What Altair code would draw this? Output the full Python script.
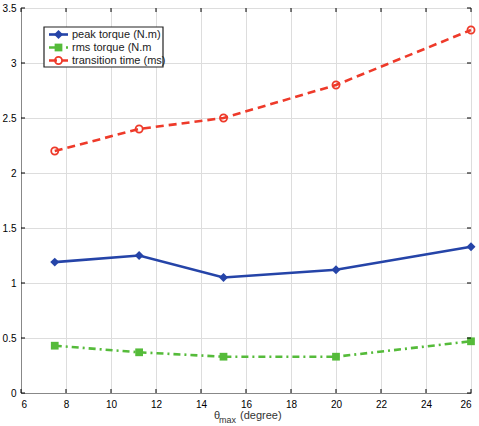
import altair as alt
import pandas as pd

# Measured values versus maximum angle
theta = [7.5, 11.25, 15, 20, 26]
peak_torque = [1.19, 1.25, 1.05, 1.12, 1.33]
rms_torque = [0.43, 0.37, 0.33, 0.33, 0.47]
transition_time = [2.2, 2.4, 2.5, 2.8, 3.3]

series_names = ["peak torque (N.m)", "rms torque (N.m", "transition time (ms)"]
series_colors = ["#2544a8", "#55bb3a", "#ee3a2a"]

x_ticks = [6, 8, 10, 12, 14, 16, 18, 20, 22, 24, 26]
y_ticks = [0, 0.5, 1, 1.5, 2, 2.5, 3, 3.5]

W, H = 450, 385
FONT = "Liberation Sans"

xscale = alt.Scale(domain=[6, 26], nice=False, zero=False)
yscale = alt.Scale(domain=[0, 3.5], nice=False)

df = pd.DataFrame({
    "theta": theta * 3,
    "value": peak_torque + rms_torque + transition_time,
    "series": [series_names[0]] * 5 + [series_names[1]] * 5 + [series_names[2]] * 5,
})

x_enc = alt.X("theta:Q", scale=xscale,
              axis=alt.Axis(values=x_ticks, grid=True, ticks=False, title=None,
                            labelPadding=6))
y_enc = alt.Y("value:Q", scale=yscale,
              axis=alt.Axis(values=y_ticks, grid=True, ticks=False, title=None,
                            labelPadding=5, labelExpr="format(datum.value, '')"))

dashes = [None, [7, 4, 2, 4], [8, 5]]
shapes = [("diamond", True, 80), ("square", True, 60), ("circle", False, 50)]


def series_layer(i):
    sub = df[df["series"] == series_names[i]]
    base = alt.Chart(sub)
    line_kw = dict(color=series_colors[i], strokeWidth=2.6)
    if dashes[i]:
        line_kw["strokeDash"] = dashes[i]
    sh, fl, sz = shapes[i]
    line = base.mark_line(**line_kw).encode(x=x_enc, y=y_enc)
    pts = base.mark_point(shape=sh, filled=fl, color=series_colors[i],
                          size=sz, strokeWidth=1.8, opacity=1).encode(x=x_enc, y=y_enc)
    return line + pts


series_layers = [series_layer(i) for i in range(3)]

# Inward tick marks on all four sides
xt = alt.Chart(pd.DataFrame({"t": x_ticks}))
yt = alt.Chart(pd.DataFrame({"t": y_ticks}))
tick_style = dict(color="black", strokeWidth=1)
ticks = (
    xt.mark_rule(**tick_style).encode(x=alt.X("t:Q", scale=xscale), y=alt.value(H), y2=alt.value(H - 4))
    + xt.mark_rule(**tick_style).encode(x=alt.X("t:Q", scale=xscale), y=alt.value(0), y2=alt.value(4))
    + yt.mark_rule(**tick_style).encode(y=alt.Y("t:Q", scale=yscale), x=alt.value(0), x2=alt.value(4))
    + yt.mark_rule(**tick_style).encode(y=alt.Y("t:Q", scale=yscale), x=alt.value(W), x2=alt.value(W - 4))
)

# Legend box
legend_box = alt.Chart(pd.DataFrame({"a": [0]})).mark_rect(
    fill="white", stroke="#222", strokeWidth=1.2
).encode(x=alt.value(23), x2=alt.value(142), y=alt.value(19), y2=alt.value(59))

row_y = [26.5, 39.5, 52.5]
legend_parts = []
for i, name in enumerate(series_names):
    one = alt.Chart(pd.DataFrame({"series": [name]}))
    kw = dict(color=series_colors[i], strokeWidth=2.6)
    if dashes[i]:
        kw["strokeDash"] = dashes[i]
    legend_parts.append(one.mark_rule(**kw).encode(
        x=alt.value(28), x2=alt.value(47), y=alt.value(row_y[i])))
    sh, fl, sz = shapes[i]
    legend_parts.append(one.mark_point(shape=sh, filled=fl, color=series_colors[i], size=sz,
                                       strokeWidth=1.8, opacity=1).encode(
        x=alt.value(37.5), y=alt.value(row_y[i])))
    legend_parts.append(one.mark_text(align="left", baseline="middle", font=FONT,
                                      fontSize=11, color="#222").encode(
        x=alt.value(51), y=alt.value(row_y[i] + 0.5), text="series:N"))

# Axis title with subscript
title_src = alt.Chart(pd.DataFrame({"a": [0]}))
x_title = (
    title_src.mark_text(text="θ", align="left", baseline="alphabetic", font=FONT,
                        fontSize=11, color="#333").encode(x=alt.value(193), y=alt.value(H + 26))
    + title_src.mark_text(text="max", align="left", baseline="alphabetic", font=FONT,
                          fontSize=9, color="#333").encode(x=alt.value(198), y=alt.value(H + 30))
    + title_src.mark_text(text="(degree)", align="left", baseline="alphabetic", font=FONT,
                          fontSize=11, color="#333").encode(x=alt.value(219), y=alt.value(H + 26))
)

chart = alt.layer(
    *series_layers, ticks, legend_box, *legend_parts, x_title
).properties(
    width=W, height=H,
    autosize=alt.AutoSizeParams(type="none"),
    padding={"left": 21, "top": 8, "right": 8, "bottom": 33},
).configure_view(
    stroke="black", strokeWidth=1
).configure_axis(
    gridDash=[1, 3], gridColor="#333", gridWidth=1, gridOpacity=1,
    domainColor="black", domainWidth=1,
    labelFont=FONT, labelFontSize=11, labelColor="#333",
).configure(background="white")

chart.save("out.html", embed_options={"renderer": "svg", "actions": False})
